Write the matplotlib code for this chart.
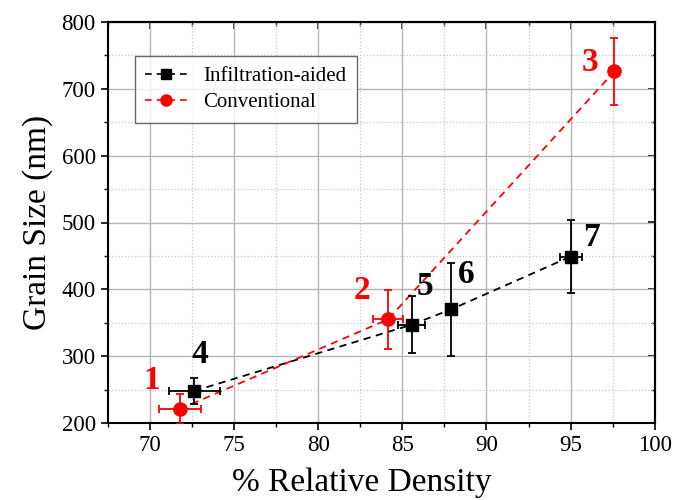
import numpy as np
import matplotlib
matplotlib.use("Agg")
import matplotlib.pyplot as plt
from matplotlib.ticker import MultipleLocator

plt.rcParams['font.family'] = ['Liberation Serif', 'DejaVu Serif']

# Infiltration-aided samples (4, 5, 6, 7)
inf_labels = ["4", "5", "6", "7"]
inf_density = [72.65, 85.55, 87.9, 95.0]
inf_density_err = [1.5, 0.8, 0.0, 0.65]
inf_grain = [248, 347, 370, 449]
inf_grain_err = [20, 43, 70, 55]

# Conventional samples (1, 2, 3)
conv_labels = ["1", "2", "3"]
conv_density = [71.8, 84.15, 97.6]
conv_density_err = [1.25, 0.9, 0.3]
conv_grain = [221, 355, 726]
conv_grain_err = [22, 44, 50]

fig = plt.figure(figsize=(6.73, 5), dpi=100)
ax = fig.add_axes([0.160, 0.154, 0.813, 0.802])

ax.errorbar(inf_density, inf_grain, xerr=inf_density_err, yerr=inf_grain_err,
            fmt='s', color='black', ecolor='black', ms=9, capsize=3,
            elinewidth=1.3, capthick=1.3, zorder=4)
ax.plot(inf_density, inf_grain, '--', color='black', lw=1.3, dashes=(4, 3), zorder=3)

ax.errorbar(conv_density, conv_grain, xerr=conv_density_err, yerr=conv_grain_err,
            fmt='o', color='red', ecolor='red', ms=9.5, capsize=3,
            elinewidth=1.3, capthick=1.3, zorder=4)
ax.plot(conv_density, conv_grain, '--', color='red', lw=1.3, dashes=(4, 3), zorder=3)

# legend proxies (dashed line with marker)
h1, = ax.plot([], [], '--s', color='black', ms=7, lw=1.2, dashes=(4, 3))
h2, = ax.plot([], [], '--o', color='red', ms=8, lw=1.2, dashes=(4, 3))
leg = ax.legend([h1, h2], ["Infiltration-aided", "Conventional"],
                loc='upper left', bbox_to_anchor=(0.03, 0.94), fontsize=15,
                frameon=True, fancybox=False, edgecolor='#444444',
                handlelength=2.0, labelspacing=0.3, borderpad=0.5)
leg.get_frame().set_linewidth(1.0)

# sample number labels
inf_offsets = [(0.3, 54), (0.78, 57), (0.9, 52), (1.25, 29)]
conv_offsets = [(-1.68, 42), (-1.55, 44), (-1.47, 14)]
for lab, x, y, (dx, dy) in zip(inf_labels, inf_density, inf_grain, inf_offsets):
    ax.text(x + dx, y + dy, lab, color='black', fontsize=24, fontweight='bold',
            ha='center', va='center', zorder=5)
for lab, x, y, (dx, dy) in zip(conv_labels, conv_density, conv_grain, conv_offsets):
    ax.text(x + dx, y + dy, lab, color='red', fontsize=24, fontweight='bold',
            ha='center', va='center', zorder=5)

ax.set_xlim(67.5, 100)
ax.set_ylim(200, 800)
ax.xaxis.set_major_locator(MultipleLocator(5))
ax.xaxis.set_minor_locator(MultipleLocator(2.5))
ax.yaxis.set_major_locator(MultipleLocator(100))
ax.yaxis.set_minor_locator(MultipleLocator(50))

ax.grid(True, which='major', color='#b5b5b5', lw=1.0, ls='-')
ax.grid(True, which='minor', color='#c8c8c8', lw=0.9, ls=':')
ax.set_axisbelow(True)

ax.tick_params(which='major', direction='out', length=5, width=1.2, labelsize=16.5)
ax.tick_params(which='minor', direction='out', length=3, width=1.0)

secx = ax.secondary_xaxis('top')
secx.xaxis.set_major_locator(MultipleLocator(5))
secx.xaxis.set_minor_locator(MultipleLocator(2.5))
secx.tick_params(which='major', direction='in', length=5, width=1.2, labeltop=False)
secx.tick_params(which='minor', direction='in', length=3, width=1.0)
secy = ax.secondary_yaxis('right')
secy.yaxis.set_major_locator(MultipleLocator(100))
secy.yaxis.set_minor_locator(MultipleLocator(50))
secy.tick_params(which='major', direction='in', length=5, width=1.2, labelright=False)
secy.tick_params(which='minor', direction='in', length=3, width=1.0)

for sp in ax.spines.values():
    sp.set_linewidth(1.5)
secx.spines['top'].set_linewidth(1.5)
secy.spines['right'].set_linewidth(1.5)

ax.set_xlabel("% Relative Density", fontsize=24)
ax.xaxis.set_label_coords(0.465, -0.112)
ax.set_ylabel("Grain Size (nm)", fontsize=24, labelpad=6)

fig.savefig("out.png", dpi=100)
